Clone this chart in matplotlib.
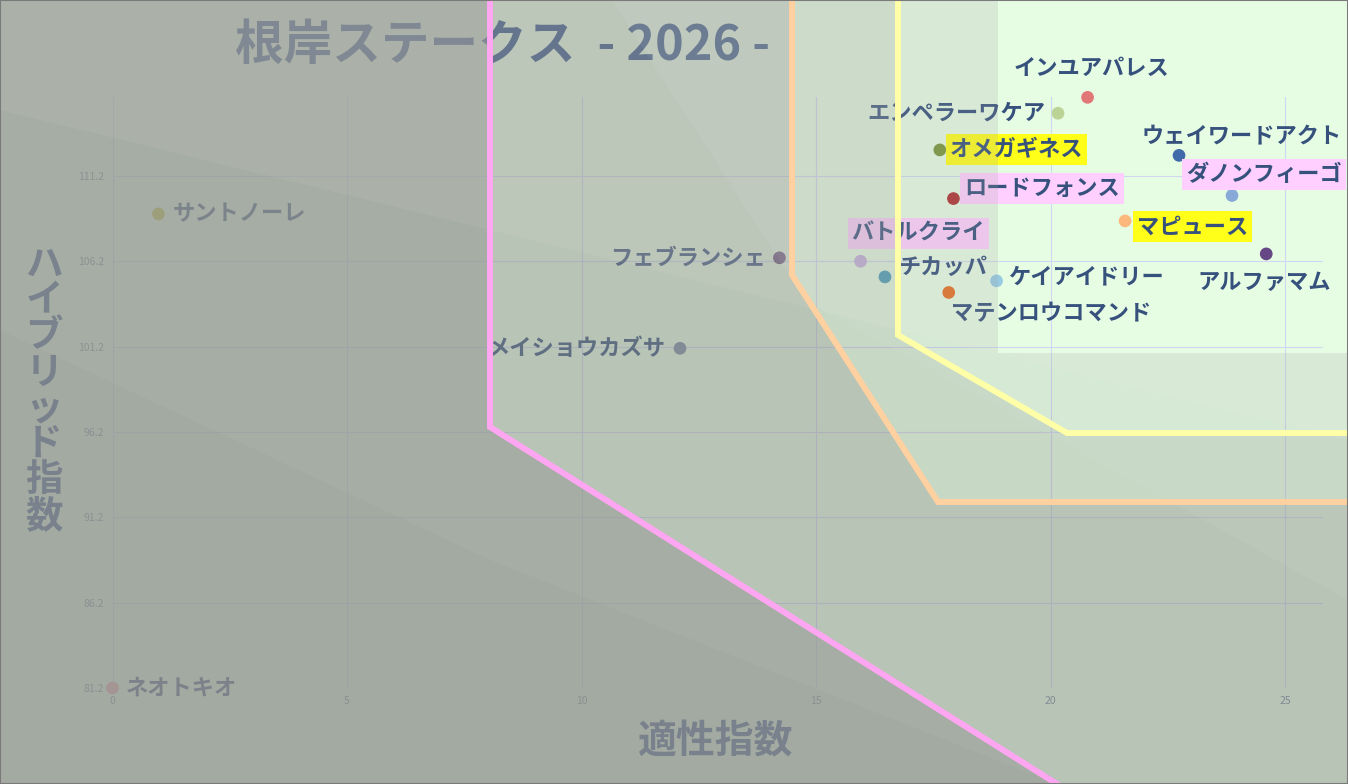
"""
根岸ステークス 2026 — 適性指数 × ハイブリッド指数 の散布図
ゾーン外を暗くする半透明のオーバーレイ付き
"""
import matplotlib
matplotlib.use("Agg")
import matplotlib.pyplot as plt
from matplotlib.patches import Polygon, Rectangle
from matplotlib.lines import Line2D

plt.rcParams["font.family"] = ["Noto Sans CJK JP", "DejaVu Sans"]

W, H = 1348, 784

# データ
horses = ["サントノーレ", "ネオトキオ", "フェブランシェ", "メイショウカズサ",
          "バトルクライ", "チカッパ", "マテンロウコマンド", "ケイアイドリー",
          "ロードフォンス", "オメガギネス", "エンペラーワケア", "インユアパレス",
          "ウェイワードアクト", "ダノンフィーゴ", "マピュース", "アルファマム"]
aptitude = [0.98, 0.0, 14.22, 12.1, 15.95, 16.47, 17.83, 18.85,
            17.93, 17.64, 20.16, 20.79, 22.74, 23.87, 21.59, 24.6]
hybrid = [108.97, 81.2, 106.4, 101.1, 106.2, 105.28, 104.37, 105.05,
          109.87, 112.72, 114.87, 115.8, 112.4, 110.05, 108.56, 106.63]
colors = ["#bcbd22", "#e7969c", "#5b3a6e", "#6b7d9a",
          "#c0a8dc", "#2f8fb0", "#e6600d", "#8cc6e0",
          "#a51c1c", "#6a8a24", "#b5cf8b", "#e06868",
          "#2a5aa0", "#7aa0d4", "#fbb06e", "#553278"]
highlight = {"オメガギネス": "#ffff00", "マピュース": "#ffff00",
             "ロードフォンス": "#ffccff", "ダノンフィーゴ": "#ffccff",
             "バトルクライ": "#ffccff"}

xticks = [0, 5, 10, 15, 20, 25]
yticks = [81.2, 86.2, 91.2, 96.2, 101.2, 106.2, 111.2]

# ラベル位置（点からのずれ px, ha）
label_pos = {
    "サントノーレ": (14, 0, "left"), "ネオトキオ": (13, 0, "left"),
    "フェブランシェ": (-14, 0, "right"), "メイショウカズサ": (-14, 0, "right"),
    "バトルクライ": (-9, 28, "left"), "チカッパ": (13, 9, "left"),
    "マテンロウコマンド": (2, -21, "left"), "ケイアイドリー": (11, 4, "left"),
    "ロードフォンス": (11, 10, "left"), "オメガギネス": (10, 0, "left"),
    "エンペラーワケア": (-13, 0, "right"), "インユアパレス": (4, 29, "center"),
    "ウェイワードアクト": (-37, 19, "left"), "ダノンフィーゴ": (-46, 21, "left"),
    "マピュース": (12, -6, "left"), "アルファマム": (-69, -29, "left"),
}

# ゾーン境界（画像ピクセル座標）
pink_zone = [(490, 0), (490, 427), (1057, 784)]
orange_zone = [(792, 0), (792, 275), (938, 502), (1348, 502)]
yellow_zone = [(898, 0), (898, 335), (1067, 433), (1348, 433)]
inner_zone = [(998, 0), (998, 353), (1348, 353)]


def fr(pts):
    return [(x / W, 1 - y / H) for x, y in pts]


fig = plt.figure(figsize=(W / 100, H / 100), dpi=100, facecolor="#e4fde2")
ax = fig.add_axes([112.5 / W, 1 - 688 / H, (1323 - 112.5) / W, (688 - 97) / H])
ax.set_facecolor("none")
ax.set_xlim(0, 25.81)
ax.set_ylim(81.2, 115.82)
ax.set_xticks(xticks)
ax.set_yticks(yticks)
ax.set_yticklabels([f"{v:.1f}" for v in yticks])
ax.tick_params(length=0, labelsize=7.5, labelcolor="#6b7a99", pad=6)
for s in ax.spines.values():
    s.set_visible(False)
ax.grid(True, color="#cdd3f0", lw=0.8)
ax.set_axisbelow(True)

ax.scatter(aptitude, hybrid, s=66, c=colors, zorder=3, clip_on=False)

for name, x, y in zip(horses, aptitude, hybrid):
    dx, dy, ha = label_pos[name]
    box = None
    if name in highlight:
        box = dict(boxstyle="square,pad=0.18", fc=highlight[name], ec="none")
    ax.annotate(name, (x, y), xytext=(dx * 0.72, dy * 0.72),
                textcoords="offset points", ha=ha, va="center",
                fontsize=16, fontweight="bold", color="#1f3d6e",
                bbox=box, zorder=4, annotation_clip=False)

title_color = "#173b78"
fig.text(503 / W, 1 - 45 / H, "根岸ステークス  - 2026 -", ha="center", va="center",
         fontsize=35, fontweight="bold", color=title_color)
fig.text(716 / W, 1 - 742 / H, "適性指数", ha="center", va="center",
         fontsize=28, fontweight="bold", color=title_color)
fig.text(44 / W, 1 - 390 / H, "\n".join("ハイブリッド指数"), ha="center",
         va="center", fontsize=27, fontweight="bold", color=title_color,
         linespacing=0.9)

# 暗くするオーバーレイ（ゾーンの外側）
shade = "#969894"
outside = [
    ([(0, 0)] + inner_zone + [(1348, 784), (0, 784)], 0.2),
    ([(0, 0)] + yellow_zone + [(1348, 784), (0, 784)], 0.2),
    ([(0, 0)] + orange_zone + [(1348, 784), (0, 784)], 0.3),
    ([(0, 0)] + pink_zone + [(0, 784)], 0.5),
]
for pts, a in outside:
    fig.add_artist(Polygon(fr(pts), closed=True, transform=fig.transFigure,
                           fc=shade, ec="none", alpha=a, zorder=10))

# 斜めの光の帯
bands = [
    ([(0, 0), (1348, 0), (1348, 440), (0, 110)], "white", 0.06),
    ([(612, 0), (1348, 0), (1348, 600), (805, 300)], "white", 0.05),
    ([(0, 330), (490, 560), (1057, 784), (0, 784)], "#808080", 0.06),
]
for pts, c, a in bands:
    fig.add_artist(Polygon(fr(pts), closed=True, transform=fig.transFigure,
                           fc=c, ec="none", alpha=a, zorder=11))

for pts, c in [(pink_zone, "#ffa6f2"), (orange_zone, "#ffd0a0"),
               (yellow_zone, "#ffffa8")]:
    xs, ys = zip(*fr(pts))
    fig.add_artist(Line2D(xs, ys, transform=fig.transFigure, color=c, lw=4.3,
                          zorder=20, solid_joinstyle="miter"))

fig.add_artist(Rectangle((0, 0), 1, 1, transform=fig.transFigure, fill=False,
                         ec="#7a7a7a", lw=1.5, zorder=30))

fig.savefig("out.png", dpi=100)
